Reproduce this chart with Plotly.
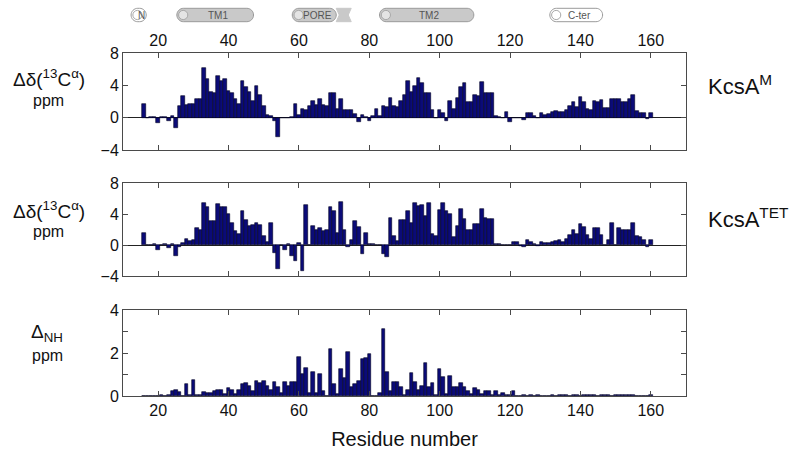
import plotly.graph_objects as go

# ---------------- data ----------------
residues = list(range(16, 161))

kcsa_m = [
    1.7, 0, 0.1, 0.1, -0.6, 0.1, 0.1, -0.45, 0.2, -1.3,
    1.5, 2.7, 1.6, 1.7, 1.7, 2.35, 2.3, 6.2, 4.75, 3.2,
    3.0, 5.2, 4.5, 4.75, 3.3, 3.0, 2.35, 1.7, 4.5, 3.8,
    3.2, 2.1, 3.9, 2.8, 1.5, 0.3, 0.2, -0.45, -2.4, 0,
    0, 0, 0.1, 1.7, 0.3, 1.1, 0.9, 1.4, 2.1, 1.6,
    2.3, 1.6, 1.45, 3.1, 3.05, 1.1, 2.35, 1.0, 1.0, 1.0,
    0.5, -0.5, 0.3, 0.1, -0.35, 0.2, 1.1, 0.2, 1.4, 1.3,
    2.4, 1.5, 1.3, 2.1, 2.8, 4.5, 3.2, 3.9, 4.9, 4.3,
    3.0, 3.0, 1.0, 0, 1.0, 0.6, -0.45, 2.1, 1.1, 2.4,
    3.8, 4.3, 1.9, 1.9, 2.8, 2.7, 4.4, 3.1, 3.0, 3.0,
    0.2, 0.1, 0, 0.7, -0.55, -0.1, -0.1, -0.1, -0.25, 0.6,
    0.6, 0.15, 0, 0.6, 0.3, 0.5, 0.7, 0.8, 0.7, 0.7,
    0.9, 1.45, 1.9, 1.3, 2.5, 2.0, 1.1, 0.9, 2.1, 1.9,
    2.2, 1.2, 1.2, 2.35, 2.35, 2.35, 1.9, 1.9, 2.3, 2.8,
    0.8, 0.6, 0.6, -0.15, 0.55,
]

kcsa_tet = [
    1.55, 0, 0.05, 0.1, -0.65, 0.05, 0.1, -0.35, 0.1, -1.4,
    -0.25, 0.3, 0.75, 0.5, 0.6, 2.15, 1.9, 5.45, 4.9, 3.1,
    3.1, 5.3, 4.9, 4.9, 3.95, 2.9, 1.8, 1.4, 4.45, 3.2,
    2.45, 2.6, 2.9, 2.6, 1.15, 0.4, 2.9, -1.0, -3.1, 0,
    -0.7, 0.1, -1.4, -2.0, 0.3, -3.35, 5.2, 0, 2.5, 2.0,
    2.2, 1.8, 1.9, 4.9, 4.45, 1.6, 5.6, 2.0, -0.2, 0.6,
    3.1, 2.3, -1.1, 1.6, 0.15, 0.1, 0, 0, -1.1, -1.6,
    3.5, 1.15, 0.5, 3.2, 3.2, 4.4, 2.9, 5.4, 5.0, 5.1,
    3.7, 5.4, 1.4, 1.15, 4.5, 5.45, 4.45, 3.95, 1.0, 2.5,
    4.6, 3.3, 1.9, 1.9, 2.75, 2.75, 4.7, 3.5, 3.3, 3.4,
    0.1, 0.1, 0.05, 0, 0, 0.4, 0.4, -0.15, -0.25, 0.65,
    0.35, 0.1, -0.15, 0.35, 0.3, 0.3, 0.35, 0.5, 0.7, 0.4,
    0.8, 1.3, 1.9, 1.4, 2.75, 2.35, 1.25, 0.8, 2.15, 2.15,
    1.25, 0, 0.7, 2.8, 0, 2.2, 2.0, 1.9, 1.9, 2.9,
    1.15, 1.0, 0.6, -0.2, 0.7,
]

delta_nh = [
    0.02, 0.02, 0.02, 0.01, 0.02, 0.03, 0.02, 0.05, 0.25, 0.3,
    0.2, 0, 0.55, 0.05, 0.75, 0.03, 0.03, 0.2, 0.15, 0.15,
    0.25, 0.3, 0.28, 0.1, 0.35, 0.28, 0.1, 0.3, 0.55, 0.6,
    0.45, 0.23, 0.7, 0.62, 0.72, 0.47, 0.28, 0.64, 0.43, 0.12,
    0.67, 0.47, 0.67, 0.67, 1.8, 1.02, 1.29, 0.12, 1.13, 0.12,
    1.02, 0.25, 0, 2.2, 0.56, 0.08, 1.25, 0.82, 2.06, 0.4,
    0.54, 0.71, 1.7, 1.75, 1.94, 0, 0, 0.12, 3.1, 1.1,
    0.23, 0.67, 0.67, 0.4, 0.05, 0.3, 1.05, 0.67, 0.3, 0.47,
    1.55, 0.4, 0.6, 0.05, 1.25, 0.9, 0.08, 0.93, 0.4, 0.43,
    0.6, 0.4, 0.25, 0.08, 0.35, 0.3, 0.08, 0.25, 0.25, 0.05,
    0.25, 0.03, 0.15, 0.03, 0.05, 0.25, 0.02, 0.02, 0.03, 0.02,
    0.03, 0.02, 0.03, 0, 0.02, 0.02, 0.03, 0.02, 0.03, 0.04,
    0.03, 0.02, 0.04, 0.03, 0.02, 0.03, 0.05, 0.04, 0.03, 0.02,
    0.05, 0.04, 0.03, 0.02, 0.03, 0.04, 0.06, 0.05, 0.04, 0.03,
    0.02, 0.02, 0, 0.02, 0.03,
]

x_ticks = [20, 40, 60, 80, 100, 120, 140, 160]
cs_ticks = [-4, 0, 4, 8]
nh_ticks = [0, 1, 2, 3, 4]
nh_ticktext = ["0", "", "2", "", "4"]

# topology schematic (residue spans)
domain_names = ["N", "TM1", "PORE", "TM2", "C-ter"]
domain_start = [12.3, 25.3, 58.1, 82.9, 131.3]
domain_end = [16.6, 47.1, 70.6, 109.7, 146.3]
domain_filled = [False, True, True, True, False]

# ---------------- figure ----------------
FONT = "Liberation Sans, Arial, sans-serif"
BAR = "#0b0b78"
FRAME = "#4a4a4a"
W, H = 800, 461
ML, MR, MT, MB = 123, 114, 53, 65
PH = H - MT - MB


def py(p):
    """pixel y -> paper y"""
    return (H - MB - p) / PH


def px_x(p):
    return (p - ML) / (W - ML - MR)


fig = go.Figure()
for vals, xa, ya in [(kcsa_m, "x", "y"), (kcsa_tet, "x2", "y2"), (delta_nh, "x3", "y3")]:
    fig.add_trace(go.Bar(
        x=residues, y=vals, xaxis=xa, yaxis=ya, width=1,
        marker=dict(color=BAR, line=dict(color="#000020", width=0.6)),
        showlegend=False, hoverinfo="skip",
    ))

xcommon = dict(range=[10, 170], tickvals=x_ticks, ticks="inside", ticklen=5,
               showline=True, linecolor=FRAME, linewidth=1, mirror="ticks",
               tickcolor=FRAME, showgrid=False, zeroline=False, automargin=False,
               tickfont=dict(family=FONT, size=16, color="#111"))
ycommon = dict(ticks="inside", ticklen=5, showline=True, linecolor=FRAME,
               linewidth=1, mirror="ticks", tickcolor=FRAME, showgrid=False,
               automargin=False,
               tickfont=dict(family=FONT, size=16, color="#111"))

fig.update_layout(
    width=W, height=H,
    margin=dict(l=ML, r=MR, t=MT, b=MB, pad=0),
    paper_bgcolor="white", plot_bgcolor="white",
    bargap=0,
    font=dict(family=FONT, color="#111"),
    xaxis=dict(xcommon, anchor="y", side="top", showticklabels=True),
    xaxis2=dict(xcommon, anchor="y2", showticklabels=False, matches="x"),
    xaxis3=dict(xcommon, anchor="y3", showticklabels=True, matches="x",
                title=dict(text="Residue number", font=dict(family=FONT, size=20, color="#111"), standoff=13)),
    yaxis=dict(ycommon, domain=[py(150), py(53)], range=[-4, 8], tickvals=cs_ticks,
               zeroline=True, zerolinecolor="#222", zerolinewidth=1),
    yaxis2=dict(ycommon, domain=[py(276), py(183)], range=[-4, 8], tickvals=cs_ticks,
                zeroline=True, zerolinecolor="#222", zerolinewidth=1),
    yaxis3=dict(ycommon, domain=[0, py(310)], range=[0, 4], tickvals=nh_ticks,
                ticktext=nh_ticktext, zeroline=False),
)

# ---- y labels and panel names ----
lab_font = dict(family=FONT, size=19, color="#111")
small_font = dict(family=FONT, size=16, color="#111")
ann = [
    (49, 78, "Δδ(<sup>13</sup>C<sup>α</sup>)", lab_font),
    (48, 101, "ppm", small_font),
    (49, 210, "Δδ(<sup>13</sup>C<sup>α</sup>)", lab_font),
    (48, 231, "ppm", small_font),
    (47, 333, "Δ<sub>NH</sub>", lab_font),
    (47, 355, "ppm", small_font),
]
for xp, yp, t, f in ann:
    fig.add_annotation(x=px_x(xp), y=py(yp), xref="paper", yref="paper", text=t,
                       showarrow=False, font=f, xanchor="center", yanchor="middle")
for yp, t in [(85, "KcsA<sup>M</sup>"), (218, "KcsA<sup>TET</sup>")]:
    fig.add_annotation(x=px_x(706), y=py(yp), xref="paper", yref="paper", text=t,
                       showarrow=False, font=dict(family=FONT, size=22, color="#111"),
                       xanchor="left", yanchor="middle")

# ---- topology schematic ----
y_top, y_bot = py(8.3), py(21.7)
y_mid = (y_top + y_bot) / 2
res_per_px = 1 / 3.52
rad = 6.7 * res_per_px
k = 0.5523


def pill_path(a, b):
    hy = (y_top - y_bot) / 2
    return (f"M {a+rad},{y_top} L {b-rad},{y_top} "
            f"C {b-rad+k*rad},{y_top} {b},{y_mid+k*hy} {b},{y_mid} "
            f"C {b},{y_mid-k*hy} {b-rad+k*rad},{y_bot} {b-rad},{y_bot} "
            f"L {a+rad},{y_bot} "
            f"C {a+rad-k*rad},{y_bot} {a},{y_mid-k*hy} {a},{y_mid} "
            f"C {a},{y_mid+k*hy} {a+rad-k*rad},{y_top} {a+rad},{y_top} Z")


for name, a, b, filled in zip(domain_names, domain_start, domain_end, domain_filled):
    fig.add_shape(type="path", xref="x", yref="paper", path=pill_path(a, b),
                  fillcolor="#c9c9c9" if filled else "white",
                  line=dict(color="#9a9a9a", width=1), layer="above")
    cr = 4.6 * res_per_px
    fig.add_shape(type="circle", xref="x", yref="paper",
                  x0=a + 0.5, x1=a + 0.5 + 2 * cr,
                  y0=y_mid - 4.6 / PH, y1=y_mid + 4.6 / PH,
                  fillcolor="#e4e4e4" if filled else "white",
                  line=dict(color="#a8a8a8", width=1), layer="above")
    tx = (a + b) / 2 + (0.8 if name != "N" else 0.9)
    fig.add_annotation(x=tx, y=y_mid, xref="x", yref="paper", text=name,
                       showarrow=False, font=dict(family=FONT, size=10, color="#555"),
                       xanchor="center", yanchor="middle")

# ribbon after PORE
pa = domain_end[2]
pb = pa + 15 * res_per_px
notch = 3 * res_per_px
fig.add_shape(type="path", xref="x", yref="paper",
              path=(f"M {pa},{y_top} L {pb},{y_top} L {pb-notch},{y_mid} L {pb},{y_bot} "
                    f"L {pa},{y_bot} L {pa+notch},{y_mid} Z"),
              fillcolor="#c9c9c9", line=dict(color="#c9c9c9", width=1), layer="above")

fig.write_html("out.html", config={"displayModeBar": False},
               post_script="document.body.style.margin='0';")
